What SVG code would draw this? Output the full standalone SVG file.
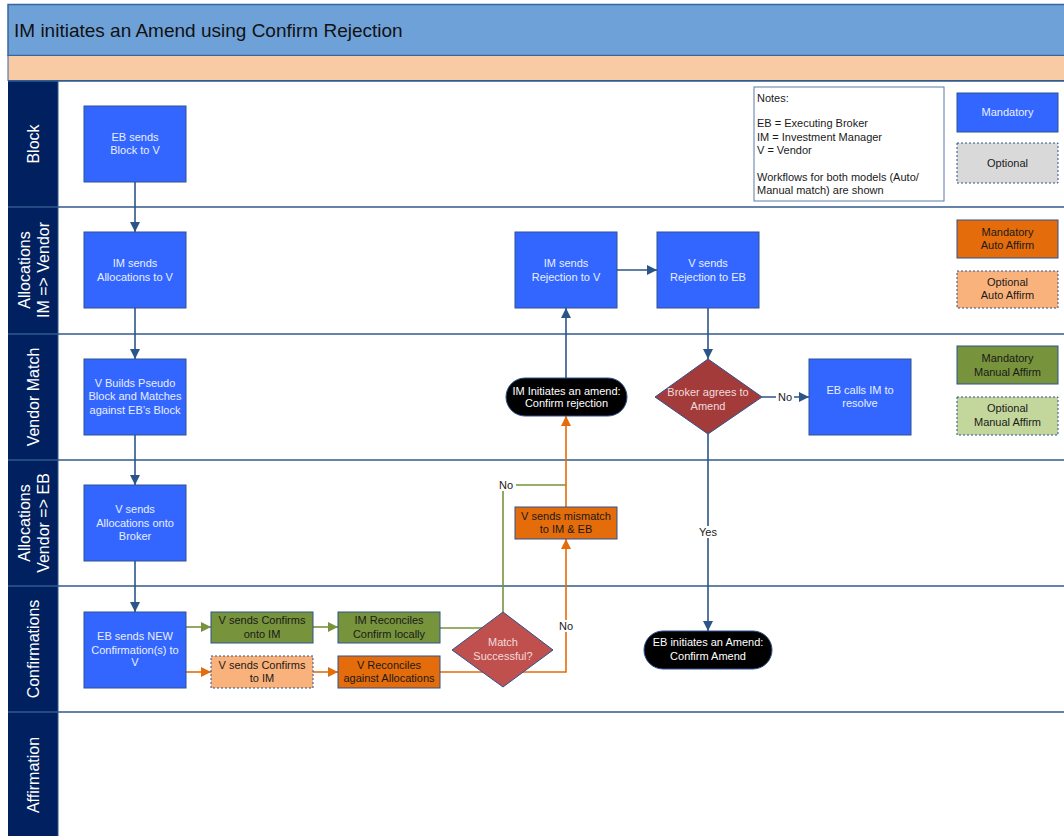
<svg xmlns="http://www.w3.org/2000/svg" width="1064" height="836" viewBox="0 0 1064 836">
<style>
text{font-family:"Liberation Sans",Arial,sans-serif;font-size:11px}
.bl{fill:#3366FF;stroke:#2F528F;stroke-width:1}
.wt{fill:#E8EEFF;text-anchor:middle}
.dk{fill:#1A1A1A;text-anchor:middle}
.lane{fill:#FFFFFF;text-anchor:middle;font-size:16px}
.dash{stroke-dasharray:2,2}
.cb{fill:none;stroke:#2B5589;stroke-width:1.6}
.cg{fill:none;stroke:#77933C;stroke-width:1.6}
.co{fill:none;stroke:#E46C0A;stroke-width:1.6}
.div{stroke:#2F5A8C;stroke-width:1.5}
.term{fill:#000000;stroke:#2F528F;stroke-width:1}
.lbl{fill:#1A1A1A;text-anchor:middle}
</style>
<defs>
<marker id="ab" markerUnits="userSpaceOnUse" markerWidth="10" markerHeight="10" refX="10" refY="5" orient="auto"><path d="M0,0 L10,5 L0,10 z" fill="#2B5589"/></marker>
<marker id="ag" markerUnits="userSpaceOnUse" markerWidth="10" markerHeight="10" refX="10" refY="5" orient="auto"><path d="M0,0 L10,5 L0,10 z" fill="#77933C"/></marker>
<marker id="ao" markerUnits="userSpaceOnUse" markerWidth="10" markerHeight="10" refX="10" refY="5" orient="auto"><path d="M0,0 L10,5 L0,10 z" fill="#E46C0A"/></marker>
</defs>
<rect width="1064" height="836" fill="#FFFFFF"/>
<g id="frame">
<rect x="8" y="4.5" width="1060" height="51" fill="#6FA1D9" stroke="#3A64A0" stroke-width="1.5"/>
<text x="14" y="37" style="font-size:19px;fill:#111">IM initiates an Amend using Confirm Rejection</text>
<rect x="8" y="55.5" width="1060" height="25" fill="#F9CBA4" stroke="#3A64A0" stroke-width="1"/>
<rect x="8" y="81" width="50" height="760" fill="#00205F"/>
<line class="div" x1="8" y1="81" x2="1064" y2="81"/>
<line class="div" x1="8" y1="207" x2="1064" y2="207"/>
<line class="div" x1="8" y1="334" x2="1064" y2="334"/>
<line class="div" x1="8" y1="460" x2="1064" y2="460"/>
<line class="div" x1="8" y1="586" x2="1064" y2="586"/>
<line class="div" x1="8" y1="712" x2="1064" y2="712"/>
<line x1="58" y1="81" x2="58" y2="836" stroke="#2F5A8C" stroke-width="1"/>
<text class="lane" transform="translate(33,144) rotate(-90)" y="5.6">Block</text>
<text class="lane" transform="translate(33,270) rotate(-90)"><tspan x="0" y="-3.4">Allocations</tspan><tspan x="0" y="15.6">IM =&gt; Vendor</tspan></text>
<text class="lane" transform="translate(33,397) rotate(-90)" y="5.6">Vendor Match</text>
<text class="lane" transform="translate(33,523) rotate(-90)"><tspan x="0" y="-3.4">Allocations</tspan><tspan x="0" y="15.6">Vendor =&gt; EB</tspan></text>
<text class="lane" transform="translate(33,649) rotate(-90)" y="5.6">Confirmations</text>
<text class="lane" transform="translate(33,775) rotate(-90)" y="5.6">Affirmation</text>
</g>
<g id="connectors">
<path class="cb" d="M135,182 V232" marker-end="url(#ab)"/>
<path class="cb" d="M135,308 V359" marker-end="url(#ab)"/>
<path class="cb" d="M135,435 V485" marker-end="url(#ab)"/>
<path class="cb" d="M135,561 V612" marker-end="url(#ab)"/>
<path class="cg" d="M186,627 H211" marker-end="url(#ag)"/>
<path class="cg" d="M313,627 H338" marker-end="url(#ag)"/>
<path class="co" d="M186,672 H211" marker-end="url(#ao)"/>
<path class="co" d="M313,672 H338" marker-end="url(#ao)"/>
<path class="cg" d="M440,628 H503"/>
<path class="cg" d="M503,612 V485 H566"/>
<path class="co" d="M440,672 H566 V539" marker-end="url(#ao)"/>
<path class="co" d="M566,507 V416" marker-end="url(#ao)"/>
<path class="cb" d="M566,378 V308" marker-end="url(#ab)"/>
<path class="cb" d="M617,270 H657" marker-end="url(#ab)"/>
<path class="cb" d="M708,308 V359" marker-end="url(#ab)"/>
<path class="cb" d="M762,397 H809" marker-end="url(#ab)"/>
<path class="cb" d="M708,434 V631" marker-end="url(#ab)"/>
<rect x="496" y="479" width="20" height="12" fill="#FFFFFF"/>
<text class="lbl" x="506" y="489">No</text>
<rect x="556" y="620" width="20" height="12" fill="#FFFFFF"/>
<text class="lbl" x="566" y="630">No</text>
<rect x="776" y="391" width="18" height="12" fill="#FFFFFF"/>
<text class="lbl" x="785" y="401">No</text>
<rect x="697" y="526" width="22" height="12" fill="#FFFFFF"/>
<text class="lbl" x="708" y="536">Yes</text>
</g>
<g id="n_block"><rect class="bl" x="84" y="106" width="102" height="76"/><text class="wt" x="135" y="141">EB sends</text><text class="wt" x="135" y="154">Block to V</text></g>
<g id="n_alloc"><rect class="bl" x="84" y="232" width="102" height="76"/><text class="wt" x="135" y="267">IM sends</text><text class="wt" x="135" y="281">Allocations to V</text></g>
<g id="n_pseudo"><rect class="bl" x="84" y="359" width="102" height="76"/><text class="wt" x="135" y="387">V Builds Pseudo</text><text class="wt" x="135" y="400">Block and Matches</text><text class="wt" x="135" y="414">against EB’s Block</text></g>
<g id="n_valloc"><rect class="bl" x="84" y="485" width="102" height="76"/><text class="wt" x="135" y="513">V sends</text><text class="wt" x="135" y="527">Allocations onto</text><text class="wt" x="135" y="540">Broker</text></g>
<g id="n_ebnew"><rect class="bl" x="84" y="612" width="102" height="76"/><text class="wt" x="135" y="640">EB sends NEW</text><text class="wt" x="135" y="654">Confirmation(s) to</text><text class="wt" x="135" y="666">V</text></g>
<g id="n_vconf_im"><rect x="211" y="612" width="102" height="31" fill="#77933C" stroke="#2F528F"/><text class="dk" x="262" y="624">V sends Confirms</text><text class="dk" x="262" y="638">onto IM</text></g>
<g id="n_imrec"><rect x="338" y="612" width="102" height="31" fill="#77933C" stroke="#2F528F"/><text class="dk" x="389" y="624">IM Reconciles</text><text class="dk" x="389" y="638">Confirm locally</text></g>
<g id="n_vconf_opt"><rect class="dash" x="211" y="656" width="102" height="32" fill="#FAB27C" stroke="#2F528F"/><text class="dk" x="262" y="669">V sends Confirms</text><text class="dk" x="262" y="682">to IM</text></g>
<g id="n_vrec"><rect x="338" y="656" width="102" height="32" fill="#E46C0A" stroke="#2F528F"/><text class="dk" x="389" y="669">V Reconciles</text><text class="dk" x="389" y="682">against Allocations</text></g>
<g id="n_match"><path d="M503,612 L553,650 L503,687 L452,650 z" fill="#C0504D" stroke="#2F528F"/><text x="503" y="646" style="fill:#F2DCDB;text-anchor:middle">Match</text><text x="503" y="660" style="fill:#F2DCDB;text-anchor:middle">Successful?</text></g>
<g id="n_mismatch"><rect x="515" y="507" width="102" height="32" fill="#E46C0A" stroke="#2F528F"/><text class="dk" x="566" y="520">V sends mismatch</text><text class="dk" x="566" y="533">to IM &amp; EB</text></g>
<g id="n_iminit"><rect class="term" x="506" y="378" width="121" height="38" rx="19"/><text x="566.5" y="395" style="fill:#FFFFFF;text-anchor:middle">IM Initiates an amend:</text><text x="566.5" y="407" style="fill:#FFFFFF;text-anchor:middle">Confirm rejection</text></g>
<g id="n_imrej"><rect class="bl" x="515" y="232" width="102" height="76"/><text class="wt" x="566" y="267">IM sends</text><text class="wt" x="566" y="281">Rejection to V</text></g>
<g id="n_vrej"><rect class="bl" x="657" y="232" width="102" height="76"/><text class="wt" x="708" y="267">V sends</text><text class="wt" x="708" y="281">Rejection to EB</text></g>
<g id="n_broker"><path d="M708,359 L762,397 L708,434 L655,397 z" fill="#A33B3B" stroke="#2F528F"/><text x="708" y="396" style="fill:#F2DCDB;text-anchor:middle">Broker agrees to</text><text x="708" y="410" style="fill:#F2DCDB;text-anchor:middle">Amend</text></g>
<g id="n_ebcalls"><rect class="bl" x="809" y="359" width="102" height="76"/><text class="wt" x="860" y="394">EB calls IM to</text><text class="wt" x="860" y="407">resolve</text></g>
<g id="n_ebinit"><rect class="term" x="644" y="631" width="128" height="38" rx="19"/><text x="708" y="646" style="fill:#FFFFFF;text-anchor:middle">EB initiates an Amend:</text><text x="708" y="660" style="fill:#FFFFFF;text-anchor:middle">Confirm Amend</text></g>
<g id="n_notes"><rect x="754" y="87" width="190" height="114" fill="#FFFFFF" stroke="#5B7BA8"/>
<text x="757" y="102" style="fill:#1A1A1A">Notes:</text>
<text x="757" y="127" style="fill:#1A1A1A">EB = Executing Broker</text>
<text x="757" y="141" style="fill:#1A1A1A">IM = Investment Manager</text>
<text x="757" y="154" style="fill:#1A1A1A">V = Vendor</text>
<text x="757" y="181" style="fill:#1A1A1A">Workflows for both models (Auto/</text>
<text x="757" y="194" style="fill:#1A1A1A">Manual match) are shown</text></g>
<g id="leg_mand"><rect class="bl" x="957" y="93" width="101" height="39"/><text class="wt" x="1007.5" y="116">Mandatory</text></g>
<g id="leg_opt"><rect class="dash" x="957" y="143" width="101" height="40" fill="#D9D9D9" stroke="#2F528F"/><text class="dk" x="1007.5" y="167">Optional</text></g>
<g id="leg_mauto"><rect x="957" y="220" width="101" height="38" fill="#E46C0A" stroke="#2F528F"/><text class="dk" x="1007.5" y="236">Mandatory</text><text class="dk" x="1007.5" y="249">Auto Affirm</text></g>
<g id="leg_oauto"><rect class="dash" x="957" y="271" width="101" height="37" fill="#FAB27C" stroke="#2F528F"/><text class="dk" x="1007.5" y="286">Optional</text><text class="dk" x="1007.5" y="299">Auto Affirm</text></g>
<g id="leg_mman"><rect x="957" y="346" width="101" height="38" fill="#77933C" stroke="#2F528F"/><text class="dk" x="1007.5" y="362">Mandatory</text><text class="dk" x="1007.5" y="376">Manual Affirm</text></g>
<g id="leg_oman"><rect class="dash" x="957" y="397" width="101" height="38" fill="#C3D69B" stroke="#2F528F"/><text class="dk" x="1007.5" y="412">Optional</text><text class="dk" x="1007.5" y="426">Manual Affirm</text></g>
</svg>
